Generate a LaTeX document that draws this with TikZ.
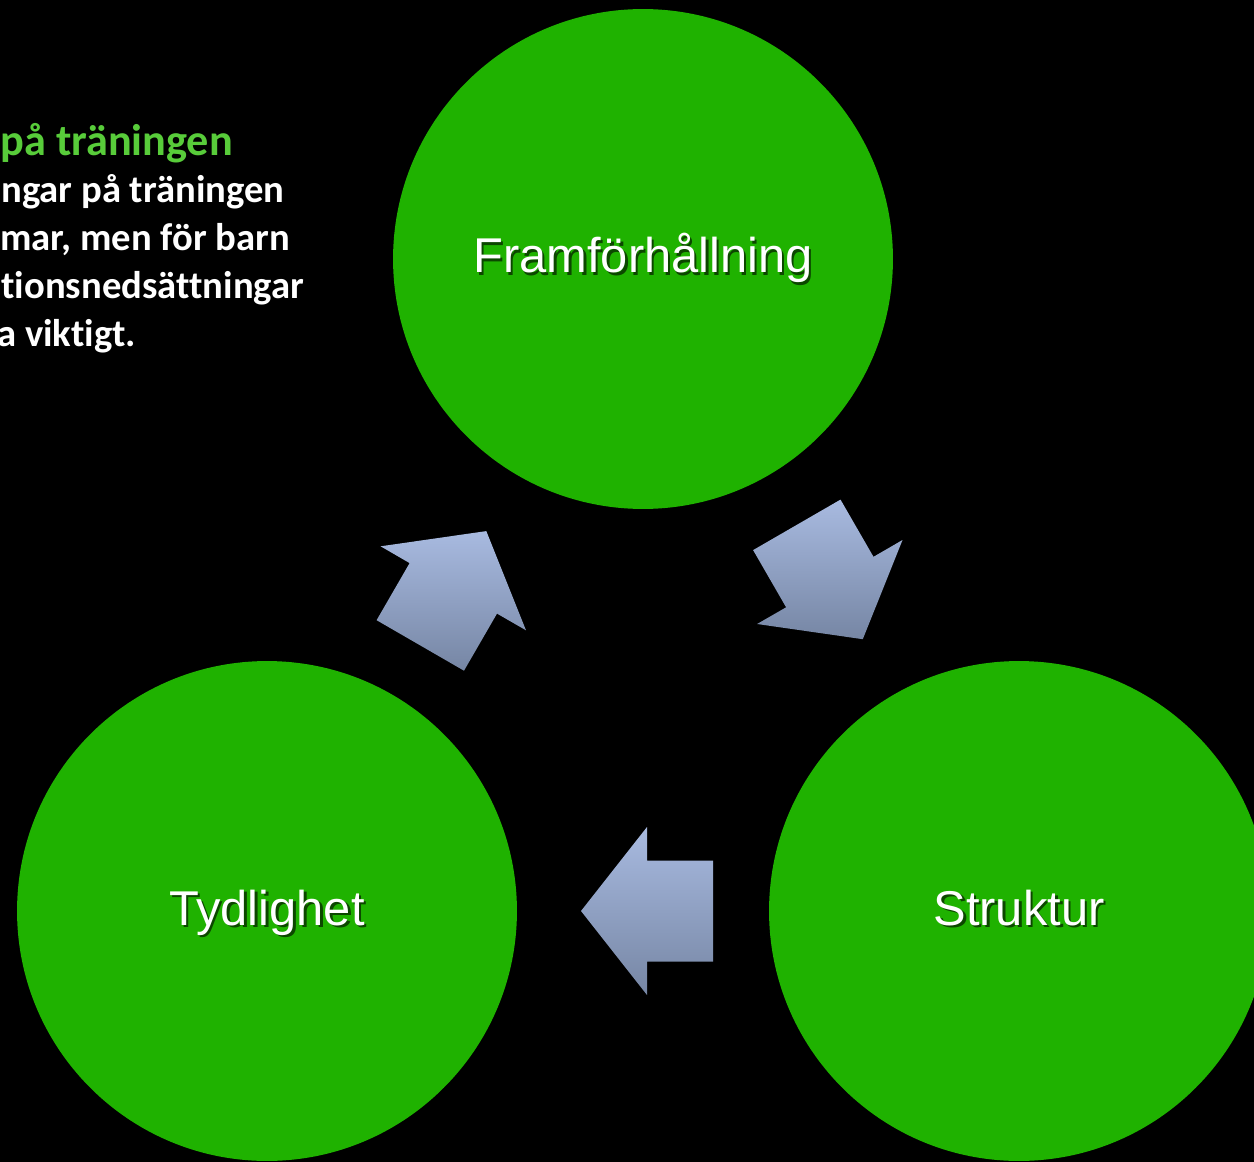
\documentclass[tikz,border=0pt]{standalone}
\usepackage{fontspec}
\setmainfont{Liberation Sans}
\newfontfamily\notefont[Ligatures=NoCommon]{Carlito}
\definecolor{ringgreen}{RGB}{31,178,0}
\definecolor{titlegreen}{RGB}{88,204,58}
\definecolor{arrowtop}{RGB}{168,186,224}
\definecolor{arrowbot}{RGB}{118,134,164}
\tikzset{
  circ/.style={circle, fill=ringgreen, minimum size=10cm, inner sep=0pt},
  lbl/.style={text=white, inner sep=0pt, font=\fontsize{27.8}{33}\selectfont},
  lblshadow/.style={lbl, text=black, text opacity=0.6},
  cyclearrow/.style={top color=arrowtop, bottom color=arrowbot},
  note/.style={anchor=base west, inner sep=0pt, text=white, font=\notefont\bfseries\fontsize{22}{26}\selectfont},
  notetitle/.style={note, text=titlegreen, font=\notefont\bfseries\fontsize{25.2}{30}\selectfont}
}
\begin{document}
\begin{tikzpicture}[x=0.02cm, y=-0.02cm]
	\useasboundingbox[fill=black] (0,0) rectangle (1254,1162);
	\clip (0,0) rectangle (1254,1162);

	% text upper left
	\node[notetitle] (title) at (0,156){på träningen};
	\node[note] (line1) at (1,203){ngar på träningen};
	\node[note] (line2) at (0,251){mar, men för barn};
	\node[note] (line3) at (1,298){tionsnedsättningar};
	\node[note] (line4) at (-3,346){a viktigt.};

	% circles
	\node[circ] (fram) at (643,259){};
	\node[circ] (tyd) at (267,911){};
	\node[circ] (struk) at (1019,911){};

		\node[lblshadow, anchor=base] at (645.5,275.5){Framförhållning};
		\node[lbl, anchor=base] (framtxt) at (643,273){Framförhållning};
		\node[lblshadow, anchor=base] at (269.5,927.5){Tydlighet};
		\node[lbl, anchor=base] (tydtxt) at (267,925){Tydlighet};
		\node[lblshadow, anchor=base] at (1021.5,927.5){Struktur};
		\node[lbl, anchor=base] (struktxt) at (1019,925){Struktur};

	% arrows
	\fill[cyclearrow] (486.3,531.1) -- (526.0,630.3) -- (497.0,613.6) -- (464.0,670.7)
		-- (376.6,620.2) -- (409.6,563.1) -- (380.6,546.3) -- cycle;
	\fill[cyclearrow] (862.8,639.2) -- (757.1,624.0) -- (786.1,607.3) -- (753.1,550.1)
		-- (840.5,499.6) -- (873.5,556.8) -- (902.5,540.0) -- cycle;
	\fill[cyclearrow] (581,911) -- (647,827) -- (647,860.5) -- (713,860.5)
		-- (713,961.5) -- (647,961.5) -- (647,995) -- cycle;
\end{tikzpicture}
\end{document}
